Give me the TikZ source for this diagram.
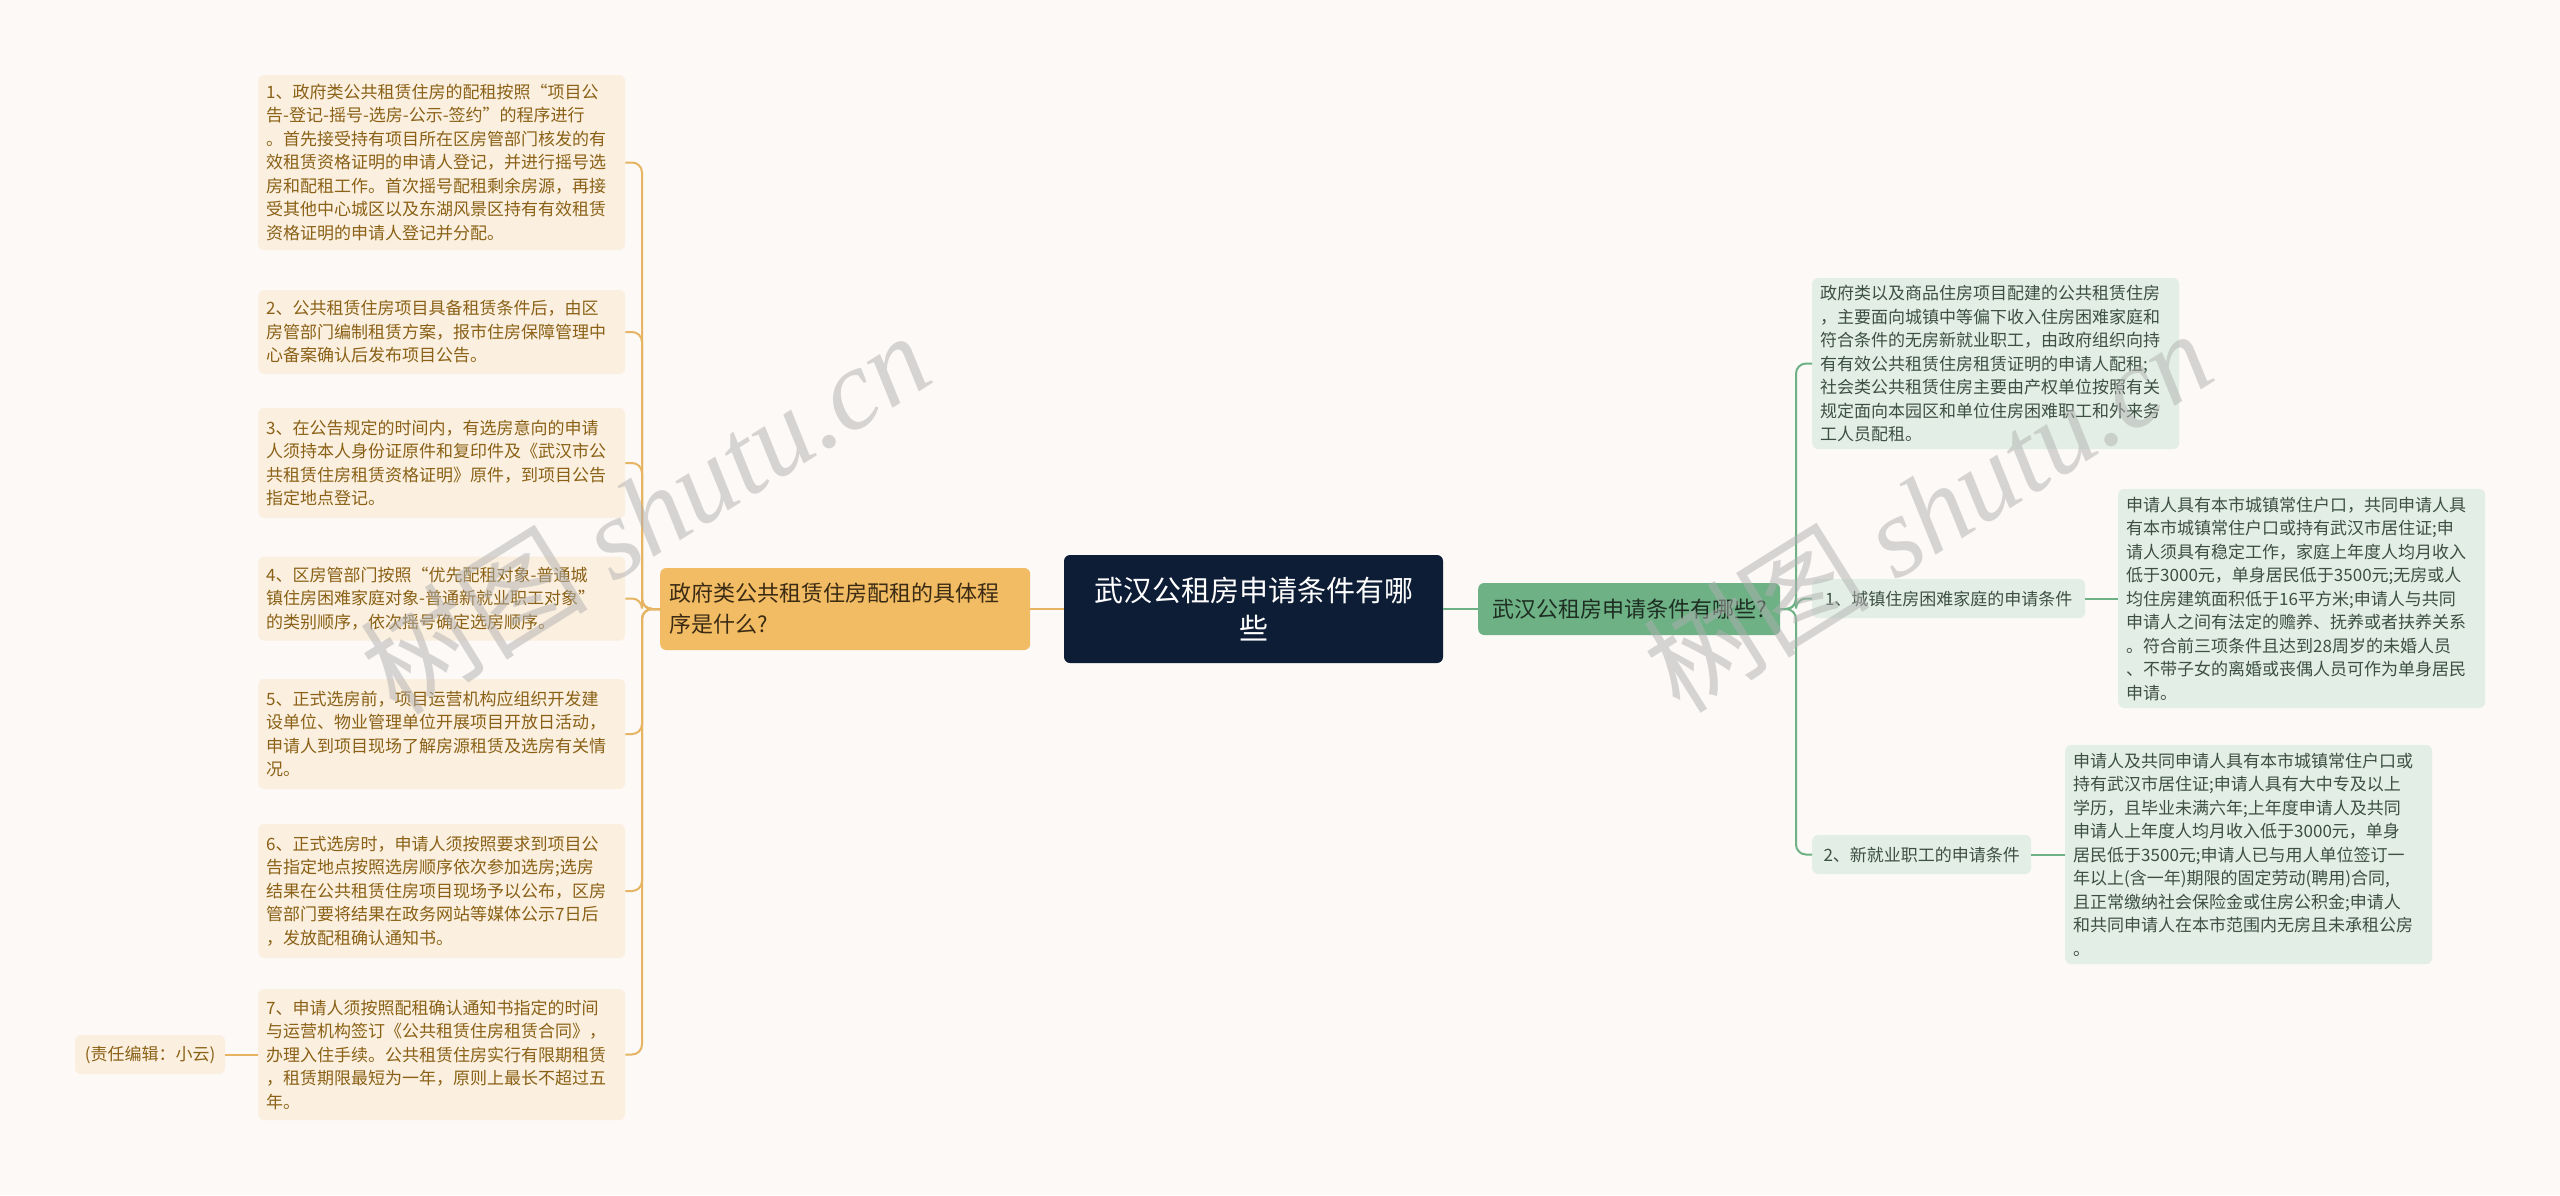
\documentclass[tikz,border=0pt]{standalone}
\usepackage{fontspec}
\setmainfont{Noto Sans CJK SC}
\newfontfamily\wmserif{Liberation Serif}
\definecolor{bg}{HTML}{FCF9F7}
\definecolor{lfill}{HTML}{FBEFDF}
\definecolor{ltext}{HTML}{8A6116}
\definecolor{lmfill}{HTML}{F1BC63}
\definecolor{lmtext}{HTML}{3B2B14}
\definecolor{lline}{HTML}{E6B462}
\definecolor{cfill}{HTML}{0E1D36}
\definecolor{rmfill}{HTML}{6DB185}
\definecolor{rmtext}{HTML}{1E2E22}
\definecolor{rfill}{HTML}{E3EFE6}
\definecolor{rtext}{HTML}{3D4F43}
\definecolor{rline}{HTML}{6DB185}
\definecolor{wm}{HTML}{B0B0B0}
\tikzset{
  lleaf/.style={fill=lfill, text=ltext, rounded corners=6pt, font={\fontsize{17pt}{23.5pt}\selectfont}, inner xsep=8pt, inner ysep=7pt, text width=351pt, align=left, anchor=west},
  rleaf/.style={fill=rfill, text=rtext, rounded corners=6pt, font={\fontsize{17pt}{23.5pt}\selectfont}, inner xsep=8pt, inner ysep=7pt, text width=351pt, align=left, anchor=west},
  rlabel/.style={fill=rfill, text=rtext, rounded corners=6pt, font={\fontsize{17pt}{20pt}\selectfont}, inner xsep=8pt, inner ysep=4pt, minimum height=39pt, anchor=west},
  lline/.style={draw=lline, line width=2pt, rounded corners=10pt},
  rline/.style={draw=rline, line width=2pt, rounded corners=10pt},
  wmark/.style={text=wm, opacity=0.5, rotate=32, font={\fontsize{114pt}{114pt}\selectfont}},
}
\begin{document}
\begin{tikzpicture}[x=1pt,y=-1pt]
\useasboundingbox (0,0) rectangle (2560,1195);
\fill[bg] (0,0) rectangle (2560,1195);

% central node
\node[fill=cfill, text=white, rounded corners=6pt, minimum width=379pt, minimum height=108pt, text width=340pt, align=center, font={\fontsize{29pt}{37.5pt}\selectfont}] (c) at (1253.5,609) {武汉公租房申请条件有哪\\些};

% left main
\node[fill=lmfill, text=lmtext, rounded corners=6pt, anchor=west, minimum height=82pt, inner xsep=9pt, text width=352pt, align=left, font={\fontsize{22pt}{31pt}\selectfont}] (lm) at (660,609) {政府类公共租赁住房配租的具体程\\序是什么?};

% right main
\node[fill=rmfill, text=rmtext, rounded corners=6pt, anchor=west, minimum width=302pt, minimum height=52pt, font={\fontsize{22pt}{26pt}\selectfont}] (rm) at (1478,609) {武汉公租房申请条件有哪些?};

% left leaves
\node[lleaf, minimum height=175pt] (l1) at (258,162.5) {1、政府类公共租赁住房的配租按照“项目公\\告-登记-摇号-选房-公示-签约”的程序进行\\。首先接受持有项目所在区房管部门核发的有\\效租赁资格证明的申请人登记，并进行摇号选\\房和配租工作。首次摇号配租剩余房源，再接\\受其他中心城区以及东湖风景区持有有效租赁\\资格证明的申请人登记并分配。};
\node[lleaf, minimum height=84pt] (l2) at (258,332) {2、公共租赁住房项目具备租赁条件后，由区\\房管部门编制租赁方案，报市住房保障管理中\\心备案确认后发布项目公告。};
\node[lleaf, minimum height=110pt] (l3) at (258,463) {3、在公告规定的时间内，有选房意向的申请\\人须持本人身份证原件和复印件及《武汉市公\\共租赁住房租赁资格证明》原件，到项目公告\\指定地点登记。};
\node[lleaf, minimum height=84pt] (l4) at (258,598.5) {4、区房管部门按照“优先配租对象-普通城\\镇住房困难家庭对象-普通新就业职工对象”\\的类别顺序，依次摇号确定选房顺序。};
\node[lleaf, minimum height=110pt] (l5) at (258,734) {5、正式选房前，项目运营机构应组织开发建\\设单位、物业管理单位开展项目开放日活动，\\申请人到项目现场了解房源租赁及选房有关情\\况。};
\node[lleaf, minimum height=134pt] (l6) at (258,891) {6、正式选房时，申请人须按照要求到项目公\\告指定地点按照选房顺序依次参加选房;选房\\结果在公共租赁住房项目现场予以公布，区房\\管部门要将结果在政务网站等媒体公示7日后\\，发放配租确认通知书。};
\node[lleaf, minimum height=131pt] (l7) at (258,1054.5) {7、申请人须按照配租确认通知书指定的时间\\与运营机构签订《公共租赁住房租赁合同》，\\办理入住手续。公共租赁住房实行有限期租赁\\，租赁期限最短为一年，原则上最长不超过五\\年。};
\node[fill=lfill, text=ltext, rounded corners=6pt, minimum width=150pt, minimum height=39pt, font={\fontsize{17pt}{20pt}\selectfont}] (zr) at (150,1054.5) {(责任编辑：小云)};

% right leaves
\node[rleaf, minimum height=171pt] (ra) at (1812,363.5) {政府类以及商品住房项目配建的公共租赁住房\\，主要面向城镇中等偏下收入住房困难家庭和\\符合条件的无房新就业职工，由政府组织向持\\有有效公共租赁住房租赁证明的申请人配租;\\社会类公共租赁住房主要由产权单位按照有关\\规定面向本园区和单位住房困难职工和外来务\\工人员配租。};
\node[rlabel, minimum width=273pt] (r1) at (1812,598.5) {1、城镇住房困难家庭的申请条件};
\node[rlabel, minimum width=219pt] (r2) at (1812,854.5) {2、新就业职工的申请条件};
\node[rleaf, minimum height=219pt] (d1) at (2118,598.5) {申请人具有本市城镇常住户口，共同申请人具\\有本市城镇常住户口或持有武汉市居住证;申\\请人须具有稳定工作，家庭上年度人均月收入\\低于3000元，单身居民低于3500元;无房或人\\均住房建筑面积低于16平方米;申请人与共同\\申请人之间有法定的赡养、抚养或者扶养关系\\。符合前三项条件且达到28周岁的未婚人员\\、不带子女的离婚或丧偶人员可作为单身居民\\申请。};
\node[rleaf, minimum height=219pt] (d2) at (2065,854.5) {申请人及共同申请人具有本市城镇常住户口或\\持有武汉市居住证;申请人具有大中专及以上\\学历，且毕业未满六年;上年度申请人及共同\\申请人上年度人均月收入低于3000元，单身\\居民低于3500元;申请人已与用人单位签订一\\年以上(含一年)期限的固定劳动(聘用)合同,\\且正常缴纳社会保险金或住房公积金;申请人\\和共同申请人在本市范围内无房且未承租公房\\。};

% connectors
\draw[lline] (c.west) -- (lm.east);
\draw[rline] (c.east) -- (rm.west);
\coordinate (lbus) at (642,609);
\foreach \n in {l1,l2,l3,l4,l5,l6,l7} \draw[lline] (lm.west) -- (lbus) |- (\n.east);
\draw[lline] (l7.west) -- (zr.east);
\coordinate (rbus) at (1796,609);
\foreach \n in {ra,r1,r2} \draw[rline] (rm.east) -- (rbus) |- (\n.west);
\draw[rline] (r1.east) -- (d1.west);
\draw[rline] (r2.east) -- (d2.west);

% watermarks
\node[wmark] (wm1) at (645,512) {树图 {\wmserif\itshape shutu.cn}};
\node[wmark] (wm2) at (1927,510) {树图 {\wmserif\itshape shutu.cn}};
\end{tikzpicture}
\end{document}
